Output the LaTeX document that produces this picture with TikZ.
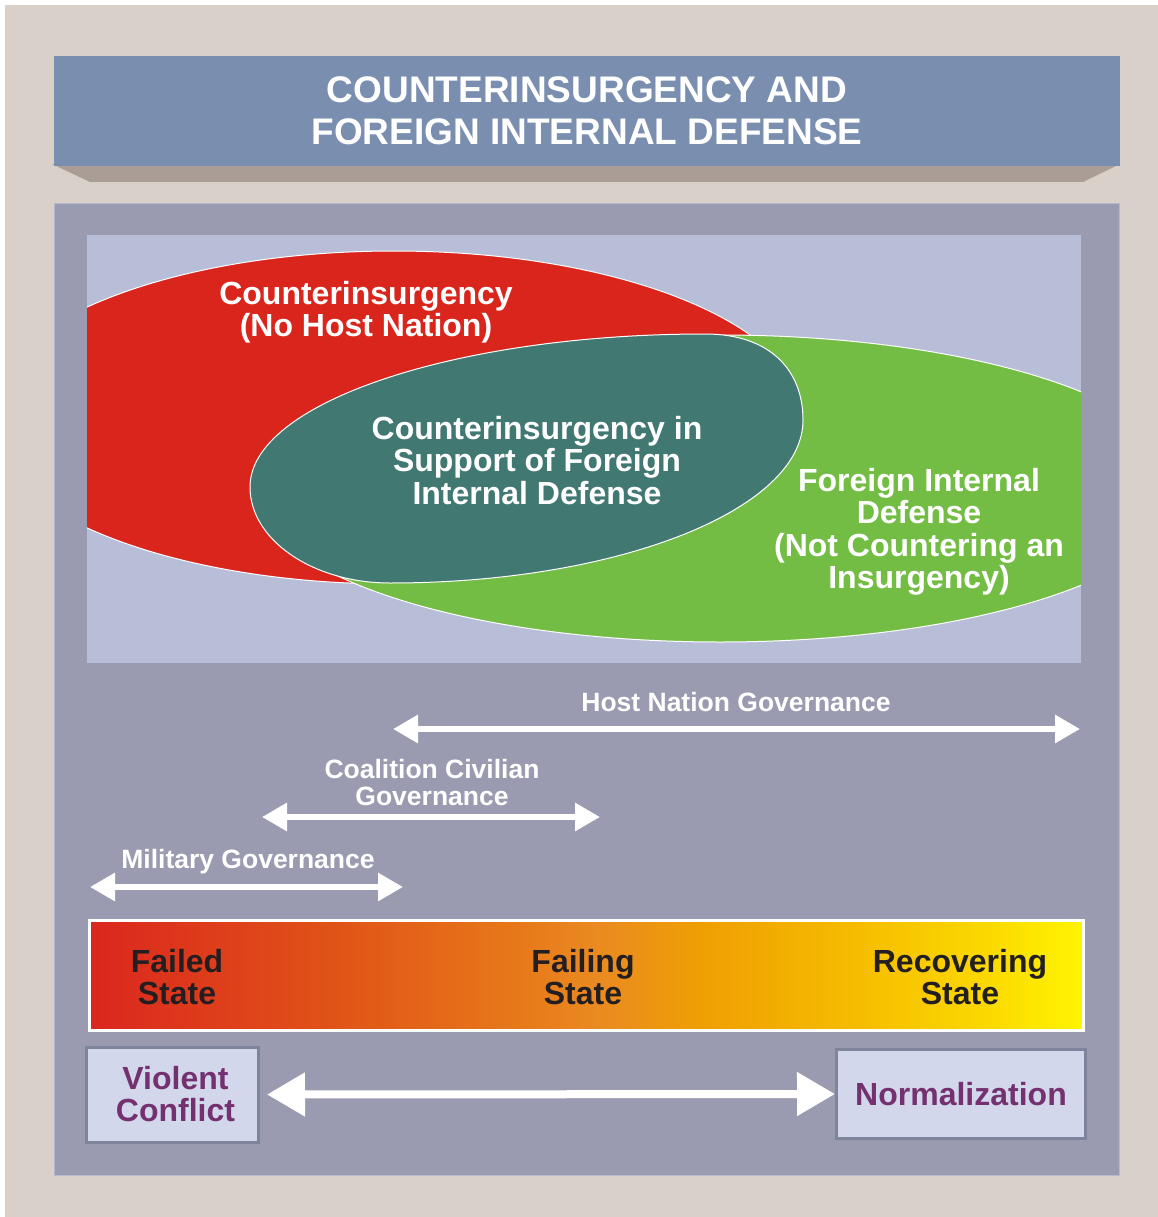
\documentclass[tikz,border=0pt]{standalone}
\usepackage{fontspec}
\setmainfont{Liberation Sans}
\usetikzlibrary{arrows.meta}
\definecolor{tanbg}{HTML}{D9D0CA}
\definecolor{banner}{HTML}{7A8EB0}
\definecolor{bshadow}{HTML}{A99D95}
\definecolor{panel}{HTML}{9A9BB0}
\definecolor{panelline}{HTML}{B4B8D2}
\definecolor{lightbg}{HTML}{B8BDD8}
\definecolor{coinred}{HTML}{DA251D}
\definecolor{fidgreen}{HTML}{73BD45}
\definecolor{teal}{HTML}{417872}
\definecolor{boxfill}{HTML}{D2D7EC}
\definecolor{boxborder}{HTML}{7E849C}
\definecolor{purpletext}{HTML}{74306F}
\definecolor{bartext}{HTML}{231F20}
\pgfdeclarehorizontalshading{statebar}{100bp}{rgb(0bp)=(0.86,0.15,0.12); rgb(25bp)=(0.86,0.15,0.12); rgb(37.5bp)=(0.88,0.33,0.09); rgb(47bp)=(0.906,0.48,0.10); rgb(50.5bp)=(0.918,0.54,0.13); rgb(56bp)=(0.937,0.627,0.01); rgb(63.5bp)=(0.965,0.737,0); rgb(70bp)=(0.984,0.847,0); rgb(75bp)=(1,0.96,0); rgb(100bp)=(1,0.96,0)}
\tikzset{
  bigtext/.style={text=white, font=\bfseries\fontsize{32}{32.5}\selectfont, align=center, inner sep=0pt},
  govtext/.style={text=white, font=\bfseries\fontsize{26.5}{27}\selectfont, align=center, inner sep=0pt},
  statetext/.style={text=bartext, font=\bfseries\fontsize{32}{32}\selectfont, align=center, inner sep=0pt},
  govarrow/.style={draw=white, line width=6pt, {Triangle[length=25pt,width=27pt]}-{Triangle[length=25pt,width=27pt]}},
  bigarrow/.style={draw=white, line width=8pt, {Triangle[length=38pt,width=42pt]}-{Triangle[length=38pt,width=42pt]}},
  stagebox/.style={draw=boxborder, line width=3pt, fill=boxfill, text=purpletext, font=\bfseries\fontsize{32}{32}\selectfont, align=center, inner sep=0pt},
  oval/.style={draw=white, line width=1pt}
}
\begin{document}
\begin{tikzpicture}[x=1pt,y=-1pt]
\useasboundingbox (0,0) rectangle (1158,1217);
\fill[white] (0,0) rectangle (1158,1217);
\fill[tanbg] (5,5) rectangle (1158,1217);
% title banner
\fill[bshadow] (52,164) -- (1120,164) -- (1083,182) -- (90,182) -- cycle;
\node[fill=banner, minimum width=1066pt, minimum height=110pt, inner sep=0pt, text=white,
      font=\bfseries\fontsize{37}{42}\selectfont, align=center] (title) at (587,111)
      {COUNTERINSURGENCY AND\\FOREIGN INTERNAL DEFENSE};
% main panel
\filldraw[fill=panel, draw=panelline, line width=1pt] (54,203.5) rectangle (1119,1175);
\fill[lightbg] (87,235) rectangle (1081,663);
% ellipses
\begin{scope}
\clip (87,235) rectangle (1081,663);
\filldraw[oval, fill=coinred] (394,417.5) ellipse [x radius=410pt, y radius=166.5pt];
\filldraw[oval, fill=fidgreen] (720,488.5) ellipse [x radius=465pt, y radius=153.5pt];
\filldraw[oval, fill=teal] (250,487) .. controls (250,402.5) and (457,334) .. (705,334)
  .. controls (772,334) and (803,372) .. (803,420)
  .. controls (803,510) and (617,583) .. (390,583)
  .. controls (313,583) and (250,540) .. (250,487) -- cycle;
\end{scope}
\node[bigtext] (coin) at (366,312) {Counterinsurgency\\(No Host Nation)};
\node[bigtext] (coinfid) at (537,460.5) {Counterinsurgency in\\Support of Foreign\\Internal Defense};
\node[bigtext] (fid) at (919,532) {Foreign Internal\\Defense\\(Not Countering an\\Insurgency)};
% governance arrows
\node[govtext] (hng) at (736,702) {Host Nation Governance};
\coordinate (hnL) at (393,729);
\coordinate (hnR) at (1080,729);
\draw[govarrow] (hnL) -- (hnR);
\node[govtext] (ccg) at (432,782.5) {Coalition Civilian\\Governance};
\coordinate (ccL) at (262,817);
\coordinate (ccR) at (600,817);
\draw[govarrow] (ccL) -- (ccR);
\node[govtext] (mg) at (248,862) {Military Governance};
\coordinate (mgL) at (90,887);
\coordinate (mgR) at (403,887);
\draw[govarrow] (mgL) -- (mgR);
% state bar
\shadedraw[shading=statebar, draw=white, line width=3pt] (89.5,920.5) rectangle (1083.5,1030.5);
\node[statetext] (failed) at (177,977) {Failed\\State};
\node[statetext] (failing) at (583,977) {Failing\\State};
\node[statetext] (recovering) at (960,977) {Recovering\\State};
% bottom boxes
\node[stagebox, minimum width=172pt, minimum height=95pt] (vc) at (172.5,1094.5) {\hspace*{6pt}Violent\\\hspace*{6pt}Conflict};
\node[stagebox, minimum width=249pt, minimum height=89pt] (norm) at (961,1094) {Normalization};
\draw[bigarrow] ([xshift=7pt]vc.east) -- (norm.west);
\end{tikzpicture}
\end{document}
